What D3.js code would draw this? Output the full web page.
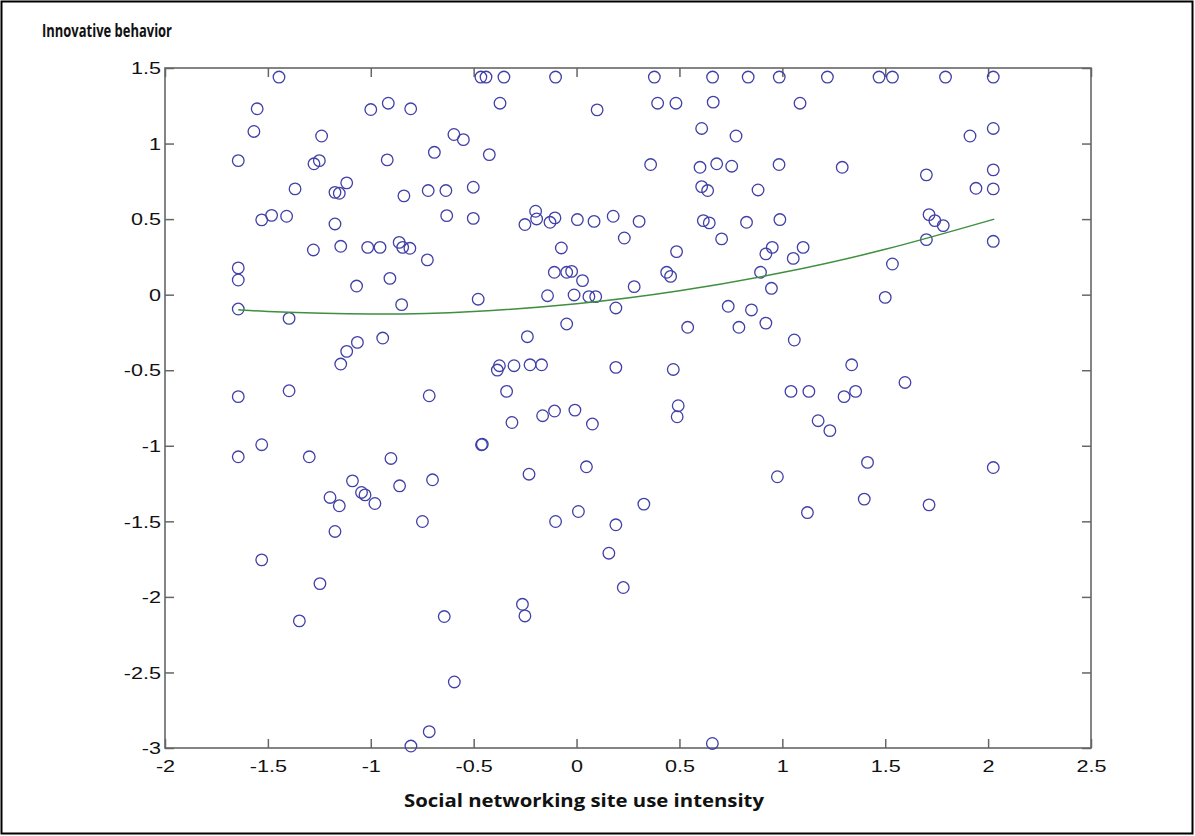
<!DOCTYPE html>
<html><head><meta charset="utf-8">
<script src="https://cdn.jsdelivr.net/npm/d3@7"></script>
<style>html,body{margin:0;padding:0;background:#fff;}</style>
</head><body>
<svg id="chart" width="1195" height="836"></svg>
<script>
// Scatter data: Social networking site use intensity (x) vs Innovative behavior (y)
const xValues = [
 -1.446,-0.465,-0.44,-0.353,-0.102,0.378,0.661,0.834,0.985,1.219,1.47,1.535,1.793,2.025,
 -1.552,-1.568,-1.644,-1.239,-1.276,-1.25,-1.368,-1.117,-1.174,-1.153,-1.53,-1.482,-1.409,-1.174,
 -1.279,-1.146,-1.015,-0.955,-0.862,-0.845,-0.81,-1.644,-1.644,-1.069,-0.907,-1.0,-0.915,-0.92,
 -0.839,-0.806,-0.372,0.10,0.394,0.483,-0.596,-0.55,-0.691,-0.424,0.36,-0.721,-0.635,-0.502,
 -0.631,-0.502,-0.199,-0.251,-0.194,-0.129,-0.105,0.004,0.085,0.178,0.304,0.232,-0.074,0.486,
 -0.725,-0.108,-0.048,-0.024,0.029,0.28,0.438,0.457,-0.141,-0.012,0.06,0.093,-0.478,0.664,
 1.086,0.608,0.775,1.912,0.60,0.681,0.754,0.984,1.291,1.70,0.608,0.637,0.882,1.941,
 0.616,0.645,0.826,0.988,1.713,1.741,1.782,0.705,1.70,0.92,0.951,1.053,1.101,0.894,
 1.535,0.947,1.50,2.025,2.025,2.025,2.025,
 -1.644,-1.397,-0.85,-0.942,-1.065,-1.117,-1.146,-1.644,-1.397,-1.53,-1.644,-1.299,-0.902,-1.089,
 -1.045,-1.028,-0.86,-1.198,-1.153,-0.98,-1.174,0.191,0.54,-0.048,-0.239,-0.375,-0.385,-0.304,
 -0.226,-0.17,0.191,0.47,-0.716,-0.34,-0.314,-0.165,-0.107,-0.008,0.077,0.494,0.489,-0.462,
 -0.458,-0.70,-0.231,0.048,-0.749,-0.102,0.009,0.191,0.327,0.737,0.85,0.789,0.92,1.058,
 1.337,1.596,1.042,1.129,1.30,1.356,1.174,1.231,1.414,0.976,1.398,1.122,1.713,2.025,
 -1.53,-1.247,-1.347,0.157,0.227,-0.643,-0.263,-0.251,-0.594,-0.716,-0.805,0.66
];
const yValues = [
 1.44,1.44,1.44,1.44,1.44,1.44,1.44,1.44,1.44,1.44,1.44,1.44,1.44,1.44,
 1.23,1.08,0.887,1.05,0.866,0.887,0.70,0.74,0.677,0.671,0.495,0.525,0.519,0.468,
 0.296,0.32,0.313,0.313,0.346,0.313,0.307,0.177,0.097,0.057,0.108,1.225,1.267,0.892,
 0.654,1.23,1.267,1.223,1.267,1.267,1.06,1.026,0.942,0.927,0.861,0.689,0.689,0.711,
 0.523,0.505,0.552,0.464,0.501,0.479,0.508,0.497,0.485,0.519,0.485,0.375,0.309,0.285,
 0.23,0.148,0.148,0.154,0.093,0.053,0.148,0.121,-0.007,-0.002,-0.013,-0.013,-0.03,1.274,
 1.267,1.10,1.05,1.05,0.843,0.866,0.85,0.861,0.843,0.793,0.715,0.689,0.693,0.704,
 0.49,0.475,0.479,0.497,0.53,0.49,0.457,0.369,0.364,0.27,0.313,0.24,0.313,0.148,
 0.203,0.042,-0.018,1.10,0.826,0.70,0.353,
 -0.095,-0.157,-0.066,-0.287,-0.316,-0.375,-0.459,-0.675,-0.636,-0.993,-1.073,-1.073,-1.084,-1.232,
 -1.309,-1.325,-1.265,-1.342,-1.397,-1.382,-1.567,-0.088,-0.216,-0.194,-0.278,-0.47,-0.499,-0.47,
 -0.464,-0.464,-0.481,-0.495,-0.669,-0.64,-0.846,-0.801,-0.77,-0.764,-0.856,-0.735,-0.808,-0.993,
 -0.99,-1.225,-1.188,-1.139,-1.501,-1.501,-1.435,-1.523,-1.386,-0.077,-0.101,-0.216,-0.188,-0.3,
 -0.464,-0.581,-0.64,-0.64,-0.675,-0.64,-0.834,-0.9,-1.11,-1.205,-1.353,-1.442,-1.391,-1.144,
 -1.755,-1.912,-2.159,-1.711,-1.938,-2.13,-2.049,-2.126,-2.563,-2.892,-2.987,-2.97
];
// Fitted curve
const fitX = [-1.644,-1.5,-1.0,-0.5,0.0,0.5,1.0,1.5,2.03];
const fitY = [-0.10,-0.111,-0.128,-0.111,-0.060,0.026,0.146,0.300,0.50];

const xTicks = [-2,-1.5,-1,-0.5,0,0.5,1,1.5,2,2.5];
const yTicks = [-3,-2.5,-2,-1.5,-1,-0.5,0,0.5,1,1.5];
const xTitle = "Social networking site use intensity";
const yTitle = "Innovative behavior";

(function(){
const svg = d3.select("#chart");
const mLeft = 165, mRight = 1091, mTop = 68, mBottom = 748;
const x = d3.scaleLinear().domain([-2, 2.5]).range([mLeft, mRight]);
const y = d3.scaleLinear().domain([-3, 1.5]).range([mBottom, mTop]);

// outer frame
svg.append("rect").attr("x",1.5).attr("y",1.5).attr("width",1191).attr("height",832)
  .attr("fill","none").attr("stroke","#000").attr("stroke-width",2);

const axisColor = "#666";
const tickLen = 9;
const labelScale = 1.35;
const fmt = d => String(d);

// Bottom axis
const gx = svg.append("g").attr("transform",`translate(0,${mBottom})`)
  .call(d3.axisBottom(x).tickValues(xTicks).tickFormat(fmt).tickSizeInner(-tickLen).tickSizeOuter(0).tickPadding(0));
gx.select(".domain").remove();
gx.selectAll(".tick line").attr("stroke",axisColor).attr("stroke-width",1.5);
gx.selectAll(".tick text").attr("y",24).attr("dy",0).attr("fill","#111")
  .style("font-family","'Liberation Sans', Arial, sans-serif").style("font-size","16px")
  .attr("transform",`scale(${labelScale},1)`);

// Top ticks
const gxt = svg.append("g").attr("transform",`translate(0,${mTop})`)
  .call(d3.axisTop(x).tickValues(xTicks).tickFormat("").tickSizeInner(-tickLen).tickSizeOuter(0));
gxt.select(".domain").remove();
gxt.selectAll(".tick line").attr("stroke",axisColor).attr("stroke-width",1.5);

// Left axis
const gy = svg.append("g").attr("transform",`translate(${mLeft},0)`)
  .call(d3.axisLeft(y).tickValues(yTicks).tickFormat(fmt).tickSizeInner(-tickLen).tickSizeOuter(0).tickPadding(0));
gy.select(".domain").remove();
gy.selectAll(".tick line").attr("stroke",axisColor).attr("stroke-width",1.5);
gy.selectAll(".tick text").attr("x",-4/labelScale).attr("dy","0.36em").attr("fill","#111")
  .style("font-family","'Liberation Sans', Arial, sans-serif").style("font-size","16px")
  .attr("transform",`scale(${labelScale},1)`);

// Right ticks
const gyr = svg.append("g").attr("transform",`translate(${mRight},0)`)
  .call(d3.axisRight(y).tickValues(yTicks).tickFormat("").tickSizeInner(-tickLen).tickSizeOuter(0));
gyr.select(".domain").remove();
gyr.selectAll(".tick line").attr("stroke",axisColor).attr("stroke-width",1.5);

// box
svg.append("rect").attr("x",mLeft).attr("y",mTop).attr("width",mRight-mLeft).attr("height",mBottom-mTop)
  .attr("fill","none").attr("stroke",axisColor).attr("stroke-width",1.6);

// points
const pts = xValues.map((v,i)=>({x:v,y:yValues[i]}));
svg.append("g").selectAll("circle").data(pts).join("circle")
  .attr("cx",d=>x(d.x)).attr("cy",d=>y(d.y)).attr("r",5.8)
  .attr("fill","none").attr("stroke","#4040a8").attr("stroke-width",1.3);

// fitted curve
const fit = fitX.map((v,i)=>[v,fitY[i]]);
svg.append("path").datum(fit)
  .attr("d", d3.line().x(d=>x(d[0])).y(d=>y(d[1])).curve(d3.curveNatural))
  .attr("fill","none").attr("stroke","#3f8f3f").attr("stroke-width",1.5);

// titles
svg.append("text").attr("x",42).attr("y",37).text(yTitle)
  .style("font-family","'Open Sans', sans-serif").style("font-weight","bold").style("font-size","18px")
  .attr("textLength",130).attr("lengthAdjust","spacingAndGlyphs").attr("fill","#111");
svg.append("text").attr("x",404).attr("y",807).text(xTitle)
  .style("font-family","'Open Sans', sans-serif").style("font-weight","bold").style("font-size","18px")
  .attr("textLength",360).attr("lengthAdjust","spacingAndGlyphs").attr("fill","#111");
})();
</script>
</body></html>
